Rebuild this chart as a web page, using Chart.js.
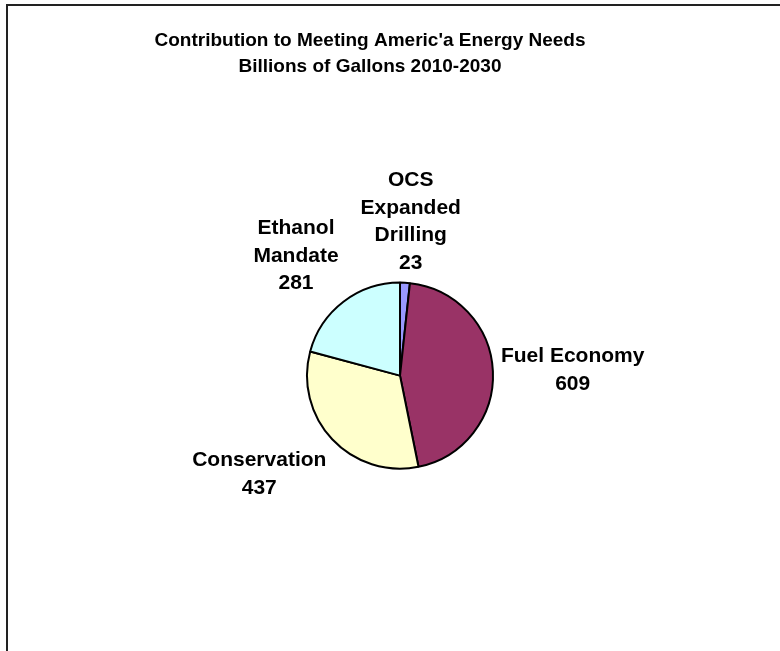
<!DOCTYPE html>
<html>
<head>
<meta charset="utf-8">
<script src="https://cdn.jsdelivr.net/npm/chart.js@4/dist/chart.umd.min.js"></script>
<style>
  html, body { margin: 0; padding: 0; background: #fff; }
  #wrap { position: relative; width: 780px; height: 651px; }
</style>
</head>
<body>
<div id="wrap"><canvas id="c" width="780" height="651"></canvas></div>
<script>
// ---- data ----
const categories = [
  ['OCS', 'Expanded', 'Drilling'],
  ['Fuel Economy'],
  ['Conservation'],
  ['Ethanol', 'Mandate']
];
const values = [23, 609, 437, 281];
const sliceColors = ['#9999FF', '#993366', '#FFFFCC', '#CCFFFF'];
const titleLines = ["Contribution to Meeting Americ'a Energy Needs", 'Billions of Gallons 2010-2030'];

const FONT = '"Liberation Sans", Arial, Helvetica, sans-serif';

// frame line (left and top edges of the chart border)
const framePlugin = {
  id: 'frame',
  beforeDraw(chart) {
    const ctx = chart.ctx;
    ctx.save();
    ctx.fillStyle = '#fff';
    ctx.fillRect(0, 0, chart.width, chart.height);
    ctx.fillStyle = '#222';
    ctx.fillRect(6, 4, 2, chart.height - 4);
    ctx.fillRect(6, 4, chart.width - 6, 2);
    ctx.restore();
  }
};

// shift the plot area right so the pie sits right of the title centre
const shiftPlugin = {
  id: 'shift',
  afterLayout(chart) {
    const a = chart.chartArea;
    a.left += 60;
    a.width = a.right - a.left;
  }
};

// outside-end data labels: category lines + value
const labelPlugin = {
  id: 'sliceLabels',
  afterDatasetsDraw(chart) {
    const ctx = chart.ctx;
    const meta = chart.getDatasetMeta(0);
    const lh = 27.5, gap = 8;
    ctx.save();
    ctx.font = 'bold 21px ' + FONT;
    ctx.fillStyle = '#000';
    ctx.textAlign = 'center';
    ctx.textBaseline = 'middle';
    meta.data.forEach((arc, i) => {
      const p = arc.getProps(['x', 'y', 'startAngle', 'endAngle', 'outerRadius'], true);
      const mid = (p.startAngle + p.endAngle) / 2;
      const dx = Math.cos(mid), dy = Math.sin(mid);
      const ax = p.x + dx * (p.outerRadius + gap);
      const ay = p.y + dy * (p.outerRadius + gap);
      const lines = [].concat(chart.data.labels[i], String(chart.data.datasets[0].data[i]));
      const w = Math.max(...lines.map(t => ctx.measureText(t).width));
      const h = lines.length * lh;
      const cl = v => Math.max(-1, Math.min(1, v));
      const cx = ax + (w / 2) * cl(2 * dx);
      const cy = ay + (h / 2) * cl(2 * dy) + 2;
      lines.forEach((t, k) => ctx.fillText(t, cx, cy - h / 2 + lh * (k + 0.5)));
    });
    ctx.restore();
  }
};

new Chart(document.getElementById('c'), {
  type: 'pie',
  data: {
    labels: categories,
    datasets: [{
      data: values,
      backgroundColor: sliceColors,
      borderColor: '#000',
      borderWidth: 2,
      radius: 93
    }]
  },
  options: {
    responsive: false,
    animation: false,
    layout: { padding: { top: 10, left: 0, right: 40, bottom: 0 } },
    plugins: {
      legend: { display: false },
      tooltip: { enabled: false },
      title: {
        display: true,
        text: titleLines,
        color: '#000',
        font: { family: FONT, size: 19, weight: 'bold', lineHeight: 1.4 },
        padding: { top: 17, bottom: 20 }
      }
    }
  },
  plugins: [framePlugin, shiftPlugin, labelPlugin]
});
</script>
</body>
</html>
